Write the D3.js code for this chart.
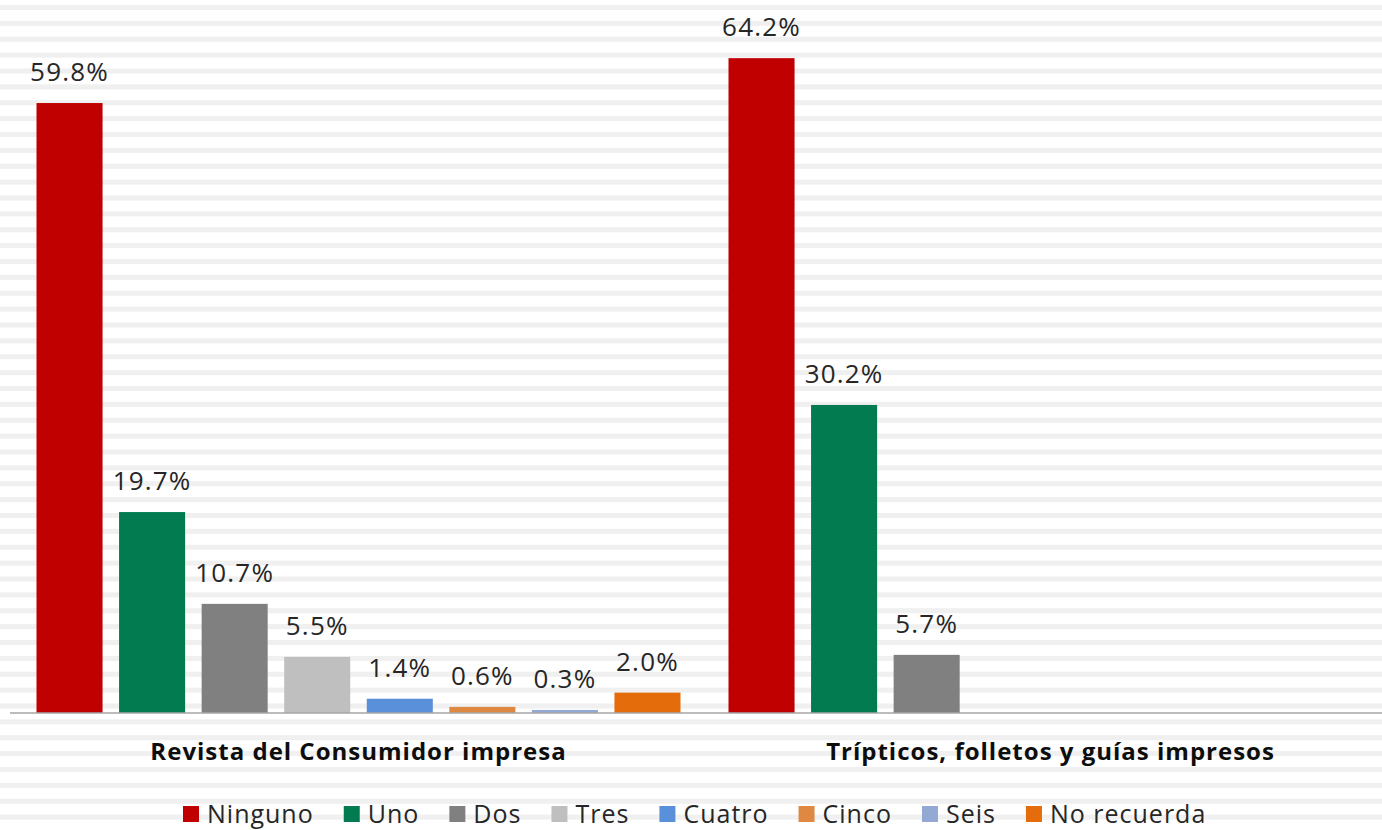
<!DOCTYPE html>
<html>
<head>
<meta charset="utf-8">
<script src="https://cdn.jsdelivr.net/npm/d3@7"></script>
<style>
  body { margin: 0; background: #fff; }
  svg { display: block; font-family: "Open Sans", Lato, sans-serif; }
</style>
</head>
<body>
<svg id="chart"></svg>
<script>
const categories = ['Revista del Consumidor impresa', 'Trípticos, folletos y guías impresos'];
const seriesNames = ['Ninguno', 'Uno', 'Dos', 'Tres', 'Cuatro', 'Cinco', 'Seis', 'No recuerda'];
const seriesColors = ['#c00000', '#017b4f', '#808080', '#bfbfbf', '#5a8fd9', '#de8841', '#93a9d4', '#e46c0a'];
const revistaValues = [59.8, 19.7, 10.7, 5.5, 1.4, 0.6, 0.3, 2.0];
const tripticosValues = [64.2, 30.2, 5.7, null, null, null, null, null];

const width = 1382;
const height = 830;
const baseline = 713;

const svg = d3.select('#chart')
    .attr('width', width)
    .attr('height', height);

// striped background
const stripeStep = 15.875;
svg.append('g')
    .selectAll('rect')
    .data(d3.range(0, Math.ceil(height / stripeStep)))
    .join('rect')
    .attr('x', 0)
    .attr('y', i => 5 + i * stripeStep)
    .attr('width', width)
    .attr('height', 5)
    .attr('fill', '#f0f0f0');

const data = categories.map((cat, ci) => {
    const vals = ci === 0 ? revistaValues : tripticosValues;
    return {
        category: cat,
        values: seriesNames.map((s, si) => ({series: s, value: vals[si], color: seriesColors[si]}))
    };
});

const x0 = d3.scaleBand()
    .domain(categories)
    .range([12.5, 1396.5]);

const x1 = d3.scaleBand()
    .domain(seriesNames)
    .range([24, x0.bandwidth() - 24])
    .paddingInner(0.2);

const y = d3.scaleLinear()
    .domain([0, 70])
    .range([baseline, baseline - 714]);

const groups = svg.selectAll('.group')
    .data(data)
    .join('g')
    .attr('class', 'group')
    .attr('transform', d => `translate(${x0(d.category)},0)`);

groups.selectAll('rect')
    .data(d => d.values.filter(v => v.value != null))
    .join('rect')
    .attr('x', d => x1(d.series))
    .attr('y', d => y(d.value))
    .attr('width', x1.bandwidth())
    .attr('height', d => y(0) - y(d.value))
    .attr('fill', d => d.color);

groups.selectAll('.bar-label')
    .data(d => d.values.filter(v => v.value != null))
    .join('text')
    .attr('class', 'bar-label')
    .attr('x', d => x1(d.series) + x1.bandwidth() / 2)
    .attr('y', d => y(d.value) - 22)
    .attr('text-anchor', 'middle')
    .attr('font-size', 26)
    .attr('letter-spacing', 1.2)
    .attr('fill', '#262626')
    .text(d => d.value.toFixed(1) + '%');

// baseline axis
svg.append('g')
    .attr('transform', `translate(0,${baseline})`)
    .call(d3.axisBottom(x0).tickSize(0).tickPadding(30))
    .call(g => g.select('.domain').attr('stroke', '#a6a6a6').attr('stroke-width', 1.5)
        .attr('d', `M10,0H${width}`))
    .call(g => g.selectAll('text')
        .attr('font-family', '"Open Sans", sans-serif')
        .attr('font-size', 24)
        .attr('letter-spacing', 1)
        .attr('font-weight', 'bold')
        .attr('fill', '#0d0d0d'));

// legend
const legend = svg.append('g')
    .selectAll('g')
    .data(seriesNames)
    .join('g');

legend.append('rect')
    .attr('width', 16)
    .attr('height', 16)
    .attr('fill', (d, i) => seriesColors[i]);

legend.append('text')
    .attr('x', 24)
    .attr('y', 17)
    .attr('font-size', 25)
    .attr('letter-spacing', 1)
    .attr('fill', '#262626')
    .text(d => d);

let cursor = 183;
legend.each(function () {
    const w = d3.select(this).select('text').node().getComputedTextLength();
    d3.select(this).attr('transform', `translate(${cursor},806)`);
    cursor += 24 + w + 30;
});
</script>
</body>
</html>
